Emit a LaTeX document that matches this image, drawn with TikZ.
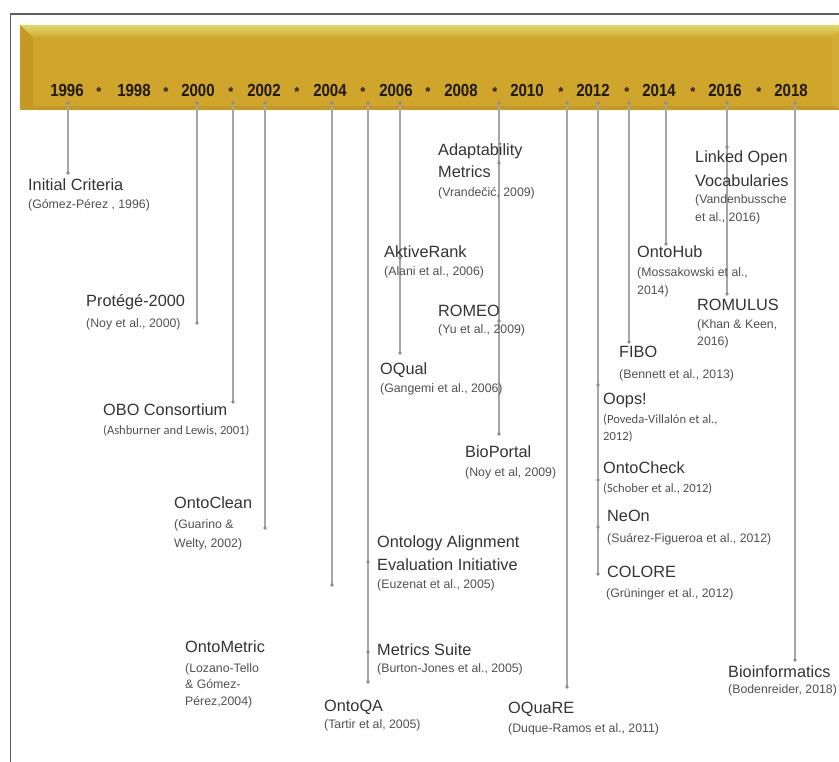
\documentclass[tikz,border=0pt]{standalone}
\usepackage{fontspec}
\setmainfont{Liberation Sans}
\newfontfamily\calib{Carlito}
\newfontfamily\yearfont[FakeStretch=0.86]{Liberation Sans}

\definecolor{barface}{HTML}{CFA52C}
\definecolor{bartop}{HTML}{DCD968}
\definecolor{barleft}{HTML}{C69922}
\definecolor{barright}{HTML}{D3AC36}
\definecolor{barbottom}{HTML}{C59923}
\definecolor{yeartext}{HTML}{1E1A10}
\definecolor{tickgray}{HTML}{A6A6A6}
\definecolor{dotgray}{HTML}{8C8C8C}
\definecolor{ttlgray}{HTML}{333333}
\definecolor{citgray}{HTML}{505050}
\definecolor{framegray}{HTML}{5E5E5E}

\tikzset{
  tick/.style={draw=tickgray, line width=1.3pt},
  ttl/.style={anchor=base west, inner sep=0pt, text=ttlgray, font=\fontsize{16.3}{19}\selectfont},
  cit/.style={anchor=base west, inner sep=0pt, text=citgray, font=\fontsize{12.3}{14}\selectfont},
  citc/.style={anchor=base west, inner sep=0pt, text=citgray, font=\calib\fontsize{12.6}{14}\selectfont},
  yr/.style={anchor=base, inner sep=0pt, text=yeartext, font=\yearfont\bfseries\fontsize{17.5}{19}\selectfont},
  yrstar/.style={anchor=base, inner sep=0pt, text=yeartext, font=\bfseries\fontsize{13}{15}\selectfont},
  dotmark/.style={fill=dotgray},
}

\begin{document}
\begin{tikzpicture}[x=1pt,y=-1pt]
\useasboundingbox (0,0) rectangle (839,762);

% outer frame
\draw[framegray, line width=1.4pt] (10.5,790) |- (880,14);

% bevelled header bar
\fill[barface] (20,25) rectangle (846,110);
\shade[top color=bartop, bottom color=barface, middle color=bartop!55!barface] (20,25) -- (846,25) -- (832,38) -- (33,38) -- cycle;
\fill[barleft] (20,25) -- (33,38) -- (33,106) -- (20,110) -- cycle;
\fill[barbottom] (20,110) -- (33,106) -- (832,106) -- (846,110) -- cycle;
\fill[barright] (846,25) -- (832,38) -- (832,106) -- (846,110) -- cycle;

% year scale
\node[yr] (y1996) at (67,97) {1996};
\node[yr] (y1998) at (134,97) {1998};
\node[yr] (y2000) at (198,97) {2000};
\node[yr] (y2002) at (264,97) {2002};
\node[yr] (y2004) at (330,97) {2004};
\node[yr] (y2006) at (396,97) {2006};
\node[yr] (y2008) at (461,97) {2008};
\node[yr] (y2010) at (527,97) {2010};
\node[yr] (y2012) at (593,97) {2012};
\node[yr] (y2014) at (659,97) {2014};
\node[yr] (y2016) at (725,97) {2016};
\node[yr] (y2018) at (791,97) {2018};
\node[yrstar] (s97) at (99,97) {*};
\node[yrstar] (s99) at (166,97) {*};
\node[yrstar] (s01) at (231,97) {*};
\node[yrstar] (s03) at (297,97) {*};
\node[yrstar] (s05) at (363,97) {*};
\node[yrstar] (s07) at (428,97) {*};
\node[yrstar] (s09) at (495,97) {*};
\node[yrstar] (s11) at (561,97) {*};
\node[yrstar] (s13) at (627,97) {*};
\node[yrstar] (s15) at (693,97) {*};
\node[yrstar] (s17) at (759,97) {*};

% tick origins below the years
\coordinate (t1996) at (68,103);
\coordinate (t2000) at (197,103);
\coordinate (t2001) at (233,103);
\coordinate (t2002) at (265,103);
\coordinate (t2004) at (332,103);
\coordinate (t2005) at (368,103);
\coordinate (t2006) at (400,103);
\coordinate (t2009) at (499,103);
\coordinate (t2011) at (567,103);
\coordinate (t2012) at (598,103);
\coordinate (t2013) at (629,103);
\coordinate (t2014) at (666,103);
\coordinate (t2016) at (727,103);
\coordinate (t2018) at (795,103);

% event points
\coordinate (dInit) at (68,173);
\coordinate (dProt) at (197,323);
\coordinate (dObo) at (233,402);
\coordinate (dClean) at (265,528);
\coordinate (dMetric) at (332,585);
\coordinate (dAlign) at (368,562);
\coordinate (dSuite) at (368,652);
\coordinate (dQA) at (368,682);
\coordinate (dAktive) at (400,258);
\coordinate (dOQual) at (400,353);
\coordinate (dAdapt) at (499,163);
\coordinate (dRomeo) at (499,321);
\coordinate (dBio) at (499,434);
\coordinate (dOquare) at (567,687);
\coordinate (dOops) at (598,385);
\coordinate (dCheck) at (598,480);
\coordinate (dNeon) at (598,527);
\coordinate (dColore) at (598,574);
\coordinate (dFibo) at (629,342);
\coordinate (dHub) at (666,244);
\coordinate (dLov) at (727,147);
\coordinate (dRomulus) at (727,294);
\coordinate (dBioinf) at (795,660);

% drop lines
\draw[tick] (t1996) -- (dInit);
\draw[tick] (t2000) -- (dProt);
\draw[tick] (t2001) -- (dObo);
\draw[tick] (t2002) -- (dClean);
\draw[tick] (t2004) -- (dMetric);
\draw[tick] (t2005) -- (dQA);
\draw[tick] (t2006) -- (dOQual);
\draw[tick] (t2009) -- (dBio);
\draw[tick] (t2011) -- (dOquare);
\draw[tick] (t2012) -- (dColore);
\draw[tick] (t2013) -- (dFibo);
\draw[tick] (t2014) -- (dHub);
\draw[tick] (t2016) -- (dRomulus);
\draw[tick] (t2018) -- (dBioinf);

\foreach \p in {t1996,t2000,t2001,t2002,t2004,t2005,t2006,t2009,t2011,t2012,t2013,t2014,t2016,t2018,
  dInit,dProt,dObo,dClean,dMetric,dAlign,dSuite,dQA,dAktive,dOQual,dAdapt,dRomeo,dBio,dOquare,
  dOops,dCheck,dNeon,dColore,dFibo,dHub,dLov,dRomulus,dBioinf}
  \fill[dotmark] (\p) circle (1.8pt);

% events
\node[ttl] (initT) at (28,191) {Initial Criteria};
\node[cit] (initC) at (28,209) {(Gómez-Pérez , 1996)};

\node[ttl] (protT) at (86,307) {Protégé-2000};
\node[cit] (protC) at (86,328) {(Noy et al., 2000)};

\node[ttl] (oboT) at (103,416) {OBO Consortium};
\node[citc] (oboC) at (103,435) {(Ashburner and Lewis, 2001)};

\node[ttl] (cleanT) at (174,508) {OntoClean};
\node[cit] (cleanC1) at (174,528) {(Guarino \&};
\node[cit] (cleanC2) at (174,547) {Welty, 2002)};

\node[ttl] (metricT) at (185,652) {OntoMetric};
\node[cit] (metricC1) at (185,672) {(Lozano-Tello};
\node[cit] (metricC2) at (185,688) {\& Gómez-};
\node[cit] (metricC3) at (185,705) {Pérez,2004)};

\node[ttl] (alignT1) at (377,547) {Ontology Alignment};
\node[ttl] (alignT2) at (377,570) {Evaluation Initiative};
\node[cit] (alignC) at (377,588) {(Euzenat et al., 2005)};

\node[ttl] (suiteT) at (377,655) {Metrics Suite};
\node[cit] (suiteC) at (377,672) {(Burton-Jones et al., 2005)};

\node[ttl] (qaT) at (324,711) {OntoQA};
\node[cit] (qaC) at (324,728) {(Tartir et al, 2005)};

\node[ttl] (aktiveT) at (384,258) {AktiveRank};
\node[cit] (aktiveC) at (384,276) {(Alani et al., 2006)};

\node[ttl] (oqualT) at (380,375) {OQual};
\node[cit] (oqualC) at (380,392) {(Gangemi et al., 2006)};

\node[ttl] (adaptT1) at (438,156) {Adaptability};
\node[ttl] (adaptT2) at (438,178) {Metrics};
\node[cit] (adaptC) at (438,197) {(Vrandečić, 2009)};

\node[ttl] (romeoT) at (438,317) {ROMEO};
\node[cit] (romeoC) at (438,334) {(Yu et al., 2009)};

\node[ttl] (bioT) at (465,457) {BioPortal};
\node[cit] (bioC) at (465,476) {(Noy et al, 2009)};

\node[ttl] (oquareT) at (508,713) {OQuaRE};
\node[cit] (oquareC) at (508,732) {(Duque-Ramos et al.,  2011)};

\node[ttl] (fiboT) at (619,358) {FIBO};
\node[cit] (fiboC) at (619,379) {(Bennett et al., 2013)};

\node[ttl] (oopsT) at (603,405) {Oops!};
\node[citc] (oopsC1) at (603,423) {(Poveda-Villalón et al.,};
\node[citc] (oopsC2) at (603,440) {2012)};

\node[ttl] (checkT) at (603,473) {OntoCheck};
\node[citc] (checkC) at (603,492) {(Schober et al.,  2012)};

\node[ttl] (neonT) at (607,521) {NeOn};
\node[cit] (neonC) at (607,542) {(Suárez-Figueroa et al., 2012)};

\node[ttl] (coloreT) at (607,577) {COLORE};
\node[cit] (coloreC) at (606,597) {(Grüninger et al., 2012)};

\node[ttl] (hubT) at (637,258) {OntoHub};
\node[cit] (hubC1) at (637,277) {(Mossakowski et al.,};
\node[cit] (hubC2) at (637,295) {2014)};

\node[ttl] (lovT1) at (695,163) {Linked Open};
\node[ttl] (lovT2) at (695,187) {Vocabularies};
\node[cit] (lovC1) at (695,204) {(Vandenbussche};
\node[cit] (lovC2) at (695,222) {et al., 2016)};

\node[ttl] (romulusT) at (697,311) {ROMULUS};
\node[cit] (romulusC1) at (697,329) {(Khan \& Keen,};
\node[cit] (romulusC2) at (697,345) {2016)};

\node[ttl] (bioinfT) at (728,677) {Bioinformatics};
\node[cit] (bioinfC) at (728,693) {(Bodenreider, 2018)};
\end{tikzpicture}
\end{document}
